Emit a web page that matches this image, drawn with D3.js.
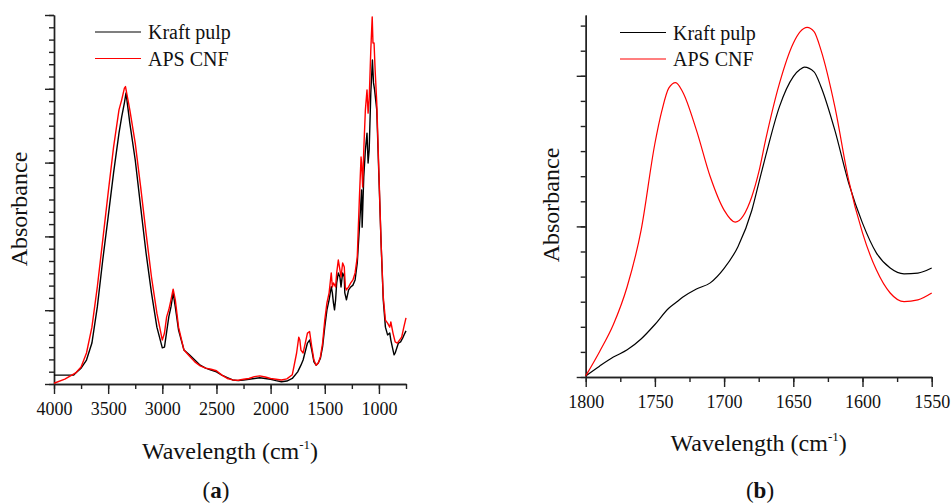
<!DOCTYPE html>
<html>
<head>
<meta charset="utf-8">
<script src="https://cdn.jsdelivr.net/npm/d3@7"></script>
<style>
  body { margin: 0; background: #fff; }
  .axis path, .axis line { stroke: #222; stroke-width: 1.4; }
  .axis text { font-size: 18px; fill: #111; }
</style>
</head>
<body>
<svg width="952" height="504"></svg>
<script>
// (a) full spectrum
var kraftWaveA = [4000,3900,3820,3800,3750,3700,3650,3600,3550,3500,
  3450,3400,3375,3350,3335,3300,3250,3200,3150,3100,
  3050,3000,2980,2960,2940,2920,2900,2880,2850,2800,
  2750,2700,2650,2600,2550,2500,2450,2400,2350,2300,
  2250,2200,2150,2100,2050,2000,1950,1900,1850,1800,
  1750,1720,1700,1680,1660,1640,1620,1600,1580,1560,
  1540,1520,1500,1480,1460,1440,1430,1420,1410,1400,
  1390,1375,1360,1350,1335,1320,1315,1300,1280,1260,
  1240,1220,1200,1180,1160,1155,1140,1125,1110,1100,
  1090,1075,1060,1050,1040,1030,1020,1000,980,960,
  940,920,900,890,870,860,850,820,800,780,760,750];
var kraftAbsA = [0.024,0.024,0.024,0.030,0.043,0.065,0.111,0.209,0.336,0.453,
  0.572,0.680,0.724,0.762,0.789,0.707,0.607,0.480,0.355,0.247,
  0.154,0.098,0.100,0.141,0.182,0.209,0.247,0.209,0.146,0.092,
  0.079,0.065,0.051,0.043,0.038,0.033,0.024,0.017,0.011,0.009,
  0.011,0.013,0.015,0.017,0.015,0.013,0.009,0.006,0.008,0.015,
  0.033,0.051,0.065,0.088,0.111,0.119,0.092,0.060,0.051,0.057,
  0.070,0.101,0.155,0.201,0.228,0.264,0.247,0.220,0.201,0.228,
  0.274,0.301,0.290,0.263,0.301,0.290,0.247,0.228,0.255,0.263,
  0.268,0.282,0.328,0.425,0.526,0.425,0.561,0.634,0.680,0.599,
  0.634,0.789,0.878,0.816,0.797,0.770,0.743,0.561,0.382,0.228,
  0.154,0.133,0.138,0.119,0.092,0.079,0.084,0.111,0.114,0.125,0.138,0.144];

var apsWaveA = [4000,3900,3800,3750,3700,3650,3600,3550,3500,3450,
  3400,3375,3350,3340,3300,3250,3200,3150,3100,3050,
  3000,2980,2960,2940,2920,2900,2880,2850,2800,2750,
  2700,2650,2600,2550,2500,2450,2400,2350,2300,2250,
  2200,2150,2100,2050,2000,1950,1900,1850,1800,1760,
  1740,1730,1720,1700,1680,1660,1640,1620,1600,1580,
  1560,1540,1520,1500,1480,1460,1440,1430,1420,1400,
  1390,1375,1360,1350,1335,1320,1310,1300,1280,1260,
  1240,1220,1200,1180,1165,1160,1150,1140,1125,1110,
  1100,1090,1075,1062,1055,1045,1035,1020,1000,980,
  960,940,920,900,890,870,850,830,810,790,770,750];
var apsAbsA = [0.002,0.013,0.030,0.046,0.084,0.154,0.263,0.390,0.518,0.642,
  0.743,0.770,0.802,0.806,0.743,0.653,0.534,0.409,0.290,0.192,
  0.119,0.138,0.182,0.201,0.228,0.257,0.228,0.154,0.092,0.076,
  0.060,0.049,0.043,0.040,0.036,0.024,0.015,0.011,0.010,0.013,
  0.015,0.020,0.022,0.019,0.015,0.013,0.011,0.014,0.025,0.084,
  0.127,0.119,0.092,0.084,0.111,0.138,0.142,0.101,0.065,0.051,
  0.057,0.074,0.111,0.173,0.220,0.247,0.301,0.263,0.274,0.263,
  0.301,0.336,0.309,0.290,0.328,0.317,0.263,0.255,0.263,0.274,
  0.282,0.301,0.344,0.507,0.615,0.599,0.534,0.634,0.743,0.797,
  0.734,0.770,0.905,0.995,0.924,0.924,0.851,0.762,0.572,0.382,
  0.236,0.173,0.165,0.154,0.168,0.138,0.114,0.111,0.119,0.127,0.154,0.179];

// (b) carbonyl region
var kraftWaveB = [1800,1790,1780,1770,1760,1750,1740,1735,1730,1720,
  1710,1700,1690,1680,1675,1670,1660,1650,1645,1642,
  1635,1630,1620,1610,1600,1590,1580,1570,1560,1550];
var kraftAbsB = [0.003,0.030,0.055,0.075,0.105,0.145,0.190,0.205,0.220,0.243,
  0.260,0.300,0.360,0.460,0.535,0.610,0.747,0.830,0.850,0.856,
  0.843,0.802,0.682,0.536,0.425,0.343,0.301,0.285,0.287,0.301];
var apsWaveB = [1800,1790,1780,1770,1760,1750,1745,1740,1735,1730,
  1720,1710,1700,1692,1680,1675,1670,1660,1650,1645,
  1640,1635,1630,1620,1610,1600,1590,1580,1570,1560,1550];
var apsAbsB = [0.003,0.070,0.145,0.250,0.405,0.645,0.735,0.798,0.813,0.788,
  0.682,0.553,0.461,0.428,0.498,0.565,0.655,0.811,0.922,0.954,
  0.966,0.954,0.903,0.747,0.544,0.398,0.296,0.232,0.208,0.213,0.232];

var xTicksA = [4000,3500,3000,2500,2000,1500,1000];
var xTicksB = [1800,1750,1700,1650,1600,1550];
var legendNames = ["Kraft pulp", "APS CNF"];
var colors = ["#000000", "#ff0000"];

var serif = "'Liberation Serif', 'Times New Roman', 'DejaVu Serif', serif";

var svg = d3.select("svg").attr("font-family", serif);

function drawPanel(opt) {
    var x = d3.scaleLinear().domain(opt.xDomain).range([opt.left, opt.right]);
    var y = d3.scaleLinear().domain([0, 1]).range([opt.bottom, opt.top]);
    var g = svg.append("g");

    // x axis: minor ticks, then labelled major ticks
    var minorX = d3.range(opt.xDomain[0], opt.xDomain[1] - 1, -opt.xMinor);
    g.append("g").attr("class", "axis")
        .attr("transform", "translate(0," + opt.bottom + ")")
        .call(d3.axisBottom(x).tickValues(minorX).tickSize(5).tickSizeOuter(0).tickFormat(""));
    g.append("g").attr("class", "axis")
        .attr("transform", "translate(0," + opt.bottom + ")")
        .call(d3.axisBottom(x).tickValues(opt.xTicks).tickSize(10).tickSizeOuter(0).tickPadding(8).tickFormat(d3.format("d")));

    // y axis has no labels
    var yMinor = d3.range(0, opt.yCount + 1).map(function(i) { return i * opt.yStep; });
    var yMajor = yMinor.filter(function(d, i) { return i % 6 === 0; });
    g.append("g").attr("class", "axis")
        .attr("transform", "translate(" + opt.left + ",0)")
        .call(d3.axisLeft(y).tickValues(yMinor).tickSize(5).tickSizeOuter(0).tickFormat(""));
    g.append("g").attr("class", "axis")
        .attr("transform", "translate(" + opt.left + ",0)")
        .call(d3.axisLeft(y).tickValues(yMajor).tickSize(9).tickSizeOuter(0).tickFormat(""));

    // d3 puts sans-serif on axis groups
    g.selectAll(".axis").attr("font-family", serif);

    var line = d3.line()
        .x(function(d) { return x(d[0]); })
        .y(function(d) { return y(d[1]); });
    if (opt.smooth) line.curve(d3.curveMonotoneX);

    opt.series.forEach(function(s, i) {
        g.append("path")
            .datum(d3.zip(s[0], s[1]))
            .attr("fill", "none")
            .attr("stroke", colors[i])
            .attr("stroke-width", opt.lineWidth)
            .attr("stroke-linejoin", "round")
            .attr("d", line);
    });

    // legend
    legendNames.forEach(function(name, i) {
        var ly = opt.legendY + i * 26.5;
        g.append("line")
            .attr("x1", opt.legendX).attr("x2", opt.legendX + 46)
            .attr("y1", ly).attr("y2", ly)
            .attr("stroke", colors[i]).attr("stroke-width", 1.2);
        g.append("text")
            .attr("x", opt.legendX + 53).attr("y", ly + 7)
            .attr("font-size", 20).attr("fill", "#111")
            .text(name);
    });

    // axis titles
    g.append("text")
        .attr("transform", "translate(" + opt.yLabelX + "," + opt.yLabelY + ") rotate(-90)")
        .attr("text-anchor", "middle")
        .attr("font-size", 24).attr("fill", "#111")
        .text("Absorbance");

    var xl = g.append("text")
        .attr("x", (opt.left + opt.right) / 2).attr("y", opt.xLabelY)
        .attr("text-anchor", "middle")
        .attr("font-size", 24).attr("fill", "#111");
    xl.append("tspan").text("Wavelength (cm");
    xl.append("tspan").attr("font-size", 13).attr("dy", -10).text("-1");
    xl.append("tspan").attr("dy", 10).text(")");

    var cap = g.append("text")
        .attr("x", opt.capX).attr("y", 498)
        .attr("text-anchor", "middle")
        .attr("font-size", 23).attr("fill", "#111");
    cap.append("tspan").text("(");
    cap.append("tspan").attr("font-weight", "bold").text(opt.cap);
    cap.append("tspan").text(")");
}

drawPanel({
    xDomain: [4000, 750], left: 54, right: 406, top: 15, bottom: 384,
    xTicks: xTicksA, xMinor: 250, yCount: 30, yStep: 1 / 30,
    series: [[kraftWaveA, kraftAbsA], [apsWaveA, apsAbsA]],
    smooth: false, lineWidth: 1.4,
    legendX: 95, legendY: 32,
    yLabelX: 27, yLabelY: 209, xLabelY: 459,
    capX: 216, cap: "a"
});

drawPanel({
    xDomain: [1800, 1550], left: 585.7, right: 931.7, top: 15, bottom: 377,
    xTicks: xTicksB, xMinor: 25, yCount: 14, yStep: 25.1 / 362,
    series: [[kraftWaveB, kraftAbsB], [apsWaveB, apsAbsB]],
    smooth: true, lineWidth: 1.2,
    legendX: 620, legendY: 32.5,
    yLabelX: 559, yLabelY: 205, xLabelY: 451,
    capX: 760, cap: "b"
});
</script>
</body>
</html>
